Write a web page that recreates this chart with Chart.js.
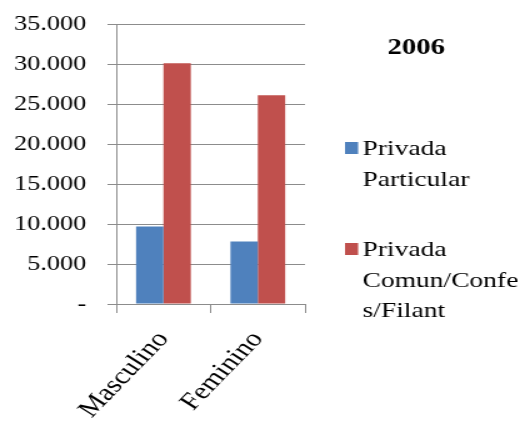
<!DOCTYPE html>
<html>
<head>
<meta charset="utf-8">
<script src="https://cdn.jsdelivr.net/npm/chart.js@4"></script>
<style>
  html, body { margin:0; padding:0; background:#fff; overflow:hidden; }
  /* the reference is horizontally stretched, so draw narrow and stretch */
  #wrap { width:416px; height:421px; transform:scaleX(1.25); transform-origin:0 0; }
</style>
</head>
<body>
<div id="wrap"><canvas id="c" width="416" height="421"></canvas></div>
<script>
// data
const categories = ['Masculino', 'Feminino'];
const particular = [9700, 7800];
const comunitaria = [30100, 26100];
const seriesNames = ['Privada Particular', 'Privada Comun/Confes/Filant'];
const legendLines = [['Privada', 'Particular'], ['Privada', 'Comun/Confe', 's/Filant']];
const chartTitle = '2006';
const yMax = 35000, yStep = 5000;

const FONT = "'Liberation Serif', 'Times New Roman', serif";
const colors = ['#4F81BD', '#C0504D'];
const gridGray = '#8c8c8c';

// title + wrapped legend on the right side
const sidePanel = {
  id: 'sidePanel',
  afterDraw(chart){
    const ctx = chart.ctx;
    ctx.save();
    ctx.fillStyle = '#000';
    ctx.font = 'bold 23px ' + FONT;
    ctx.textAlign = 'center';
    ctx.textBaseline = 'middle';
    ctx.fillText(chartTitle, 333, 48);

    const tops = [155, 256];
    ctx.font = '22px ' + FONT;
    ctx.textAlign = 'left';
    ctx.textBaseline = 'alphabetic';
    legendLines.forEach((lines, i) => {
      ctx.fillStyle = colors[i];
      ctx.fillRect(276, tops[i] - 13, 10.5, 12);
      ctx.fillStyle = '#000';
      lines.forEach((t, j) => ctx.fillText(t, 290, tops[i] + j * 30.5));
    });
    ctx.restore();
  }
};

new Chart(document.getElementById('c'), {
  type: 'bar',
  data: {
    labels: categories,
    datasets: [
      { label: seriesNames[0], data: particular, backgroundColor: colors[0] },
      { label: seriesNames[1], data: comunitaria, backgroundColor: colors[1] }
    ]
  },
  options: {
    responsive: false,
    animation: false,
    devicePixelRatio: 1,
    layout: { padding: { top: 24, right: 172, left: 0, bottom: 0 } },
    datasets: { bar: { categoryPercentage: 0.58, barPercentage: 1 } },
    plugins: { legend: { display: false }, title: { display: false }, tooltip: { enabled: false } },
    scales: {
      x: {
        afterFit(s){ s.height = 117; },
        grid: { offset: true, drawOnChartArea: false, tickLength: 9, color: gridGray },
        border: { color: gridGray },
        ticks: { color: '#000', font: { family: FONT, size: 24 }, minRotation: 52, maxRotation: 52, padding: 13 }
      },
      y: {
        min: 0, max: yMax,
        // tick padding would otherwise push the plot top down
        afterFit(s){ s.width = 93; s.paddingTop = 12; s.paddingBottom = 12; },
        grid: { color: gridGray, tickLength: 7 },
        border: { color: gridGray },
        ticks: {
          stepSize: yStep, color: '#000', padding: 17,
          font: { family: FONT, size: 21 },
          callback: v => v === 0 ? '-' : v.toLocaleString('de-DE')
        }
      }
    }
  },
  plugins: [sidePanel]
});
</script>
</body>
</html>
